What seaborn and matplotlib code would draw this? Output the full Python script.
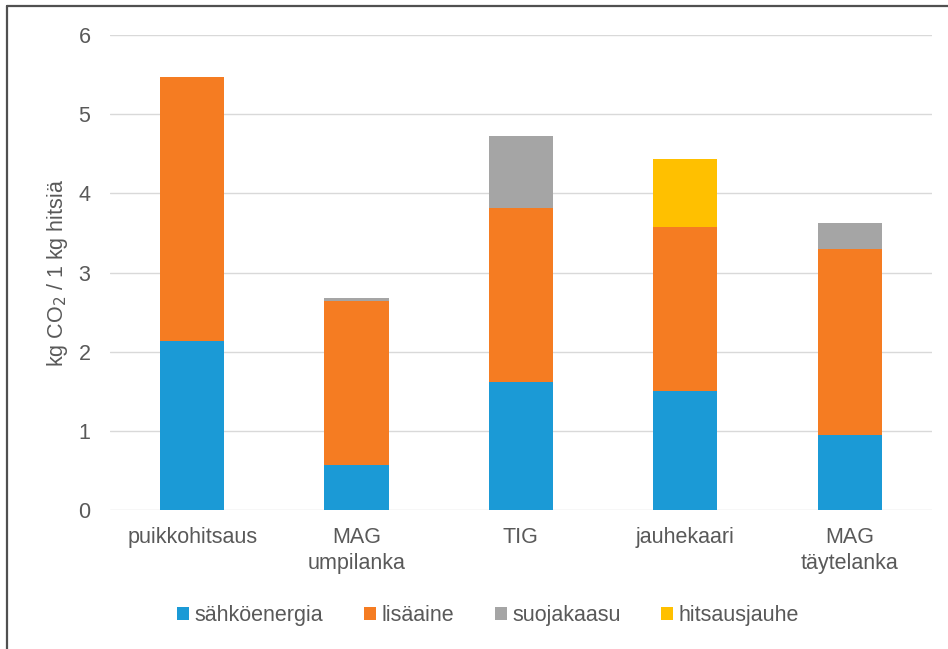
import numpy as np
import seaborn as sns
import matplotlib.pyplot as plt
from matplotlib.lines import Line2D

categories = ["puikkohitsaus", "MAG\numpilanka", "TIG", "jauhekaari", "MAG\ntäytelanka"]
series_names = ["sähköenergia", "lisäaine", "suojakaasu", "hitsausjauhe"]
sahkoenergia = [2.13, 0.57, 1.62, 1.51, 0.95]
lisaaine = [3.34, 2.07, 2.20, 2.07, 2.35]
suojakaasu = [0.0, 0.04, 0.91, 0.0, 0.33]
hitsausjauhe = [0.0, 0.0, 0.0, 0.85, 0.0]
yticks = [0, 1, 2, 3, 4, 5, 6]

colors = ["#1B9AD6", "#F57C22", "#A5A5A5", "#FFC000"]
text_color = "#595959"

if __name__ == "__main__":
    sns.set_style("white")
    plt.rcParams["font.family"] = ["Liberation Sans", "DejaVu Sans"]

    fig = plt.figure(figsize=(9.48, 6.49), dpi=100)
    ax = fig.add_axes([0.116, 0.214, 0.867, 0.732])

    values = [sahkoenergia, lisaaine, suojakaasu, hitsausjauhe]
    bottom = np.zeros(len(categories))
    for name, vals, col in zip(series_names, values, colors):
        sns.barplot(x=categories, y=vals, order=categories, color=col, width=0.39,
                    bottom=bottom, errorbar=None, label=name, linewidth=0,
                    saturation=1, ax=ax)
        bottom = bottom + np.array(vals)

    ax.set_ylim(0, 6)
    ax.set_xlim(-0.5, len(categories) - 0.5)
    ax.set_yticks(yticks)
    ax.yaxis.grid(True, color="#D9D9D9", linewidth=1)
    ax.set_axisbelow(True)
    for s in ax.spines.values():
        s.set_visible(False)
    ax.tick_params(axis="both", length=0, labelsize=15.5, colors=text_color)
    ax.tick_params(axis="x", pad=12)
    ax.tick_params(axis="y", pad=14)
    for lbl in ax.get_xticklabels():
        lbl.set_linespacing(1.35)
    ax.set_xlabel("")
    ax.set_ylabel("kg CO$_2$ / 1 kg hitsiä", fontsize=15.5, color=text_color, labelpad=6)

    ax.legend(loc="center", bbox_to_anchor=(0.515, 0.052), bbox_transform=fig.transFigure,
              ncol=4, frameon=False, fontsize=15.5, handlelength=0.55, handleheight=0.55,
              handletextpad=0.25, columnspacing=1.9, labelcolor=text_color)

    # outer frame
    fig.add_artist(Line2D([0.0074, 0.0074], [0.0, 0.9908], transform=fig.transFigure,
                          color="#505050", linewidth=1.6))
    fig.add_artist(Line2D([0.0074, 1.0], [0.9908, 0.9908], transform=fig.transFigure,
                          color="#505050", linewidth=1.6))

    plt.savefig("out.png", dpi=100)
